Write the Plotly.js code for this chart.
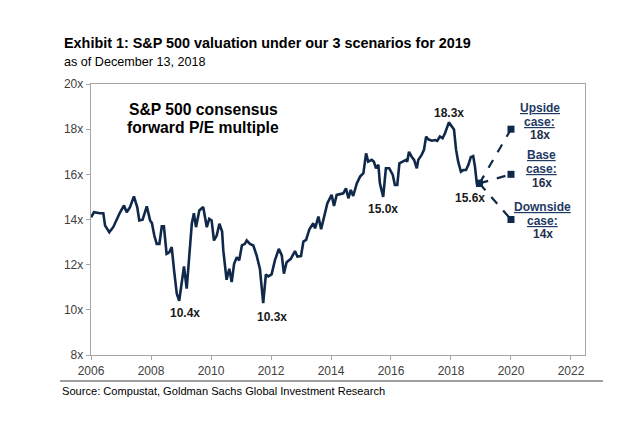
<!DOCTYPE html>
<html>
<head>
<meta charset="utf-8">
<script src="https://cdn.plot.ly/plotly-3.0.1.min.js"></script>
<style>html,body{margin:0;padding:0;background:#fff;}#chart{width:642px;height:434px;}</style>
</head>
<body>
<div id="chart"></div>
<script>
// Forward P/E history (decimal years, multiple)
var years = [2006.0,2006.1,2006.3,2006.41,2006.47,2006.61,2006.74,2006.86,2006.97,2007.1,2007.19,2007.3,2007.43,2007.54,2007.61,2007.72,2007.86,2007.97,2008.03,2008.11,2008.19,2008.28,2008.36,2008.43,2008.52,2008.61,2008.69,2008.77,2008.86,2008.94,2009.02,2009.1,2009.19,2009.28,2009.36,2009.43,2009.5,2009.61,2009.74,2009.86,2009.94,2010.02,2010.1,2010.19,2010.28,2010.37,2010.41,2010.52,2010.61,2010.69,2010.77,2010.86,2010.94,2011.03,2011.13,2011.19,2011.3,2011.41,2011.52,2011.63,2011.74,2011.83,2011.91,2012.02,2012.13,2012.26,2012.36,2012.43,2012.52,2012.66,2012.8,2012.88,2013.0,2013.08,2013.17,2013.28,2013.41,2013.47,2013.58,2013.67,2013.77,2013.88,2014.02,2014.1,2014.19,2014.3,2014.41,2014.5,2014.58,2014.66,2014.74,2014.86,2014.97,2015.08,2015.17,2015.24,2015.36,2015.43,2015.5,2015.58,2015.63,2015.74,2015.83,2015.94,2016.06,2016.13,2016.21,2016.28,2016.41,2016.5,2016.54,2016.6,2016.69,2016.77,2016.86,2016.91,2017.02,2017.1,2017.17,2017.24,2017.36,2017.47,2017.54,2017.63,2017.72,2017.8,2017.93,2018.02,2018.1,2018.17,2018.24,2018.33,2018.41,2018.5,2018.58,2018.66,2018.74,2018.8,2018.86,2018.95];
var pe = [14.1,14.32,14.28,14.28,13.73,13.44,13.66,14.03,14.32,14.62,14.32,14.55,15.02,14.55,13.96,13.99,14.58,13.96,13.84,13.29,12.92,12.92,13.7,13.7,12.48,12.55,12.78,11.74,10.71,10.4,11.15,11.92,10.94,12.63,13.81,14.28,13.66,14.4,14.55,13.66,14.03,13.96,13.07,13.29,13.81,13.47,12.63,11.33,11.82,11.23,12.04,12.33,12.19,12.85,12.92,13.07,12.92,12.85,12.41,11.82,10.3,11.57,11.48,11.57,12.19,12.7,12.41,11.6,12.11,12.26,12.6,12.36,12.38,13.02,13.1,13.57,13.83,13.61,14.13,13.57,14.06,14.72,15.09,14.6,15.09,15.13,15.16,15.38,14.94,15.31,15.04,15.6,15.9,16.05,16.93,16.56,16.64,16.56,16.27,16.42,15.6,15.0,16.27,16.27,15.97,15.53,15.53,16.49,16.56,16.64,16.56,17.0,16.78,16.64,16.27,16.64,16.86,17.08,17.67,17.55,17.49,17.52,17.48,17.67,17.6,17.82,18.3,18.14,17.99,17.08,16.56,16.12,16.19,16.19,16.42,16.76,16.81,16.34,15.6,15.6];

// 2019 scenarios
var scenarioYear = 2020;
var scenarioNames = ["Upside", "Base", "Downside"];
var scenarioValues = [18, 16, 14];

// Point labels
var labelTexts = ["10.4x", "10.3x", "15.0x", "18.3x", "15.6x"];

var xTicks = [2006,2008,2010,2012,2014,2016,2018,2020,2022];
var yTicks = [8,10,12,14,16,18,20];

var navy = "#10284a";
var FONT = "Arial, 'Liberation Sans', sans-serif";

var traces = [{
  x: years, y: pe, type: "scatter", mode: "lines",
  line: {color: navy, width: 2.6}, hoverinfo: "skip"
}];

var lastX = years[years.length-1], lastY = pe[pe.length-1];
scenarioValues.forEach(function(v){
  traces.push({
    x: [lastX, scenarioYear], y: [lastY, v], type: "scatter", mode: "lines+markers",
    line: {color: navy, width: 2.2, dash: "dash"},
    marker: {symbol: "square", size: 7, color: navy},
    hoverinfo: "skip"
  });
});

// Plot area: x 91..585 px, y 84..355 px
var PX = function(px){ return 2006 + (px-91)/30; };
var PY = function(py){ return 20 - (py-84)/22.6; };

var annotations = [];
function txt(xref, yref, x, y, text, size, color, anchor){
  annotations.push({xref:xref, yref:yref, x:x, y:y, xanchor:anchor||"center", yanchor:"middle",
    text:text, showarrow:false, font:{family:FONT, size:size, color:color}});
}
// Title & subtitle & source (paper coordinates from pixels)
var PPX = function(px){ return (px-91)/494; };
var PPY = function(py){ return (355-py)/271; };
txt("paper","paper",PPX(62),PPY(43),"<b>Exhibit 1: S&P 500 valuation under our 3 scenarios for 2019</b>",14.4,"#000","left");
txt("paper","paper",PPX(62),PPY(62),"as of December 13, 2018",12.6,"#000","left");
txt("paper","paper",PPX(60),PPY(391),"Source: Compustat, Goldman Sachs Global Investment Research",11.1,"#000","left");

// In-chart heading
txt("x","y",PX(203),PY(110),"<b>S&P 500 consensus</b>",15.7,"#000");
txt("x","y",PX(203),PY(128),"<b>forward P/E multiple</b>",15.7,"#000");

// Point labels (pixel positions)
var labelPx = [[185,313],[272,317],[383,209],[449,113],[470,198]];
for (var i=0;i<labelTexts.length;i++){
  txt("x","y",PX(labelPx[i][0]),PY(labelPx[i][1]),"<b>"+labelTexts[i]+"</b>",12,"#1a1a1a");
}
// Scenario labels
var scenPx = [[540,[108,122,135]],[542,[155,169,183]],[543,[207,221,234]]];
for (var j=0;j<scenarioNames.length;j++){
  var cx = PX(scenPx[j][0]), ys = scenPx[j][1];
  txt("x","y",cx,PY(ys[0]),"<b><span style='text-decoration:underline'>"+scenarioNames[j]+"</span></b>",12,"#1f3a63");
  txt("x","y",cx,PY(ys[1]),"<b><span style='text-decoration:underline'>case:</span></b>",12,"#1f3a63");
  txt("x","y",cx,PY(ys[2]),"<b>"+scenarioValues[j]+"x</b>",12,"#1f2f4a");
}

var layout = {
  width: 642, height: 434,
  margin: {l:91, r:57, t:84, b:79},
  paper_bgcolor: "#fff", plot_bgcolor: "#fff",
  showlegend: false,
  xaxis: {range:[2006, 2022.467], tickvals: xTicks, ticktext: xTicks.map(String),
    showgrid:false, zeroline:false, showline:true, linecolor:"#a6a6a6", linewidth:1.3, mirror:true,
    ticks:"outside", ticklen:4, tickcolor:"#a6a6a6",
    tickfont:{family:FONT, size:12, color:"#404040"}},
  yaxis: {range:[8,20], tickvals: yTicks, ticktext: yTicks.map(function(v){return v+"x";}),
    showgrid:false, zeroline:false, showline:true, linecolor:"#a6a6a6", linewidth:1.3, mirror:true,
    ticks:"outside", ticklen:4, tickcolor:"#a6a6a6",
    tickfont:{family:FONT, size:12, color:"#404040"}},
  shapes: [{type:"line", xref:"paper", yref:"paper", x0:PPX(60), x1:PPX(603),
    y0:PPY(381), y1:PPY(381), line:{color:"#808080", width:1.5}}],
  annotations: annotations
};

Plotly.newPlot("chart", traces, layout, {displayModeBar:false, staticPlot:true});
</script>
</body>
</html>
